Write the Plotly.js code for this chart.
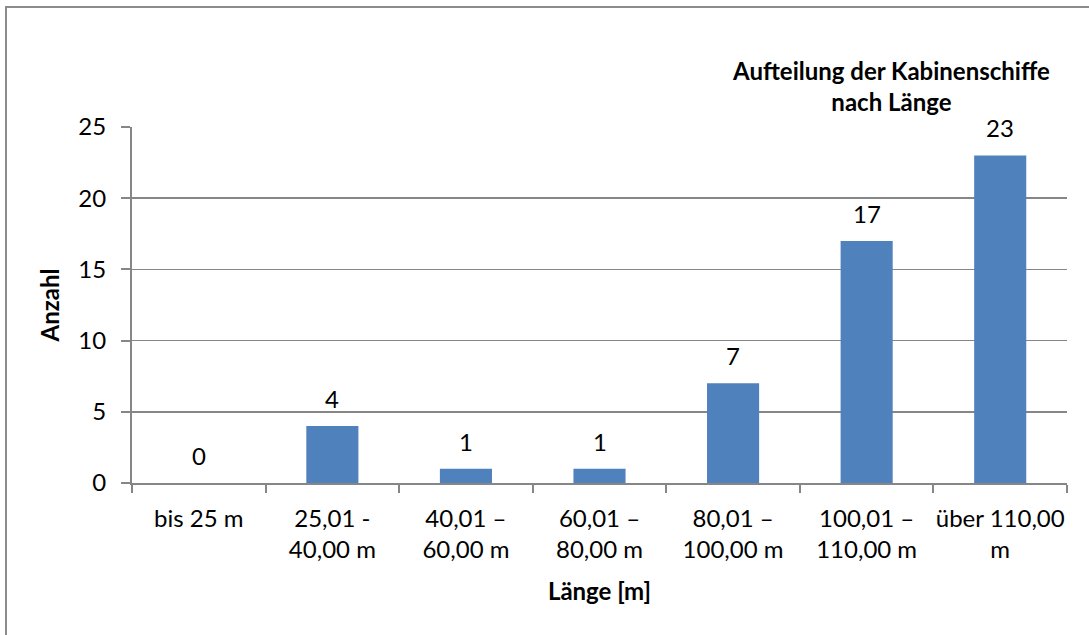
<!DOCTYPE html>
<html>
<head>
<meta charset="utf-8">
<script src="https://cdn.plot.ly/plotly-3.0.1.min.js"></script>
<style>
  html, body { margin: 0; padding: 0; background: #ffffff; }
  #chart { width: 1089px; height: 635px; }
</style>
</head>
<body>
<div id="chart"></div>
<script>
// ---- data ----
const categories = [
  "bis 25 m",
  "25,01 -<br>40,00 m",
  "40,01 –<br>60,00 m",
  "60,01 –<br>80,00 m",
  "80,01 –<br>100,00 m",
  "100,01 –<br>110,00 m",
  "über 110,00<br>m"
];
const counts = [0, 4, 1, 1, 7, 17, 23];
const yTickValues = [0, 5, 10, 15, 20, 25];
const chartTitle = "Aufteilung der Kabinenschiffe<br>nach Länge";
const xTitle = "Länge [m]";
const yTitle = "Anzahl";

// ---- layout ----
const FONT = "Lato, 'Open Sans', sans-serif";
const FS = 24;
const GRAY = "#868686";
const L = 132, R = 22, T = 127, B = 152, W = 1089, H = 635;
const pw = W - L - R, ph = H - T - B;
const px2x = p => (p - L) / pw;
const px2y = p => 1 + (T - p) / ph;

const trace = {
  type: "bar",
  x: categories,
  y: counts,
  marker: { color: "#4F81BD" },
  hoverinfo: "x+y"
};

const labelAnnotations = categories.map((c, i) => ({
  x: c, y: counts[i], xref: "x", yref: "y",
  text: String(counts[i]),
  showarrow: false, yanchor: "bottom", xanchor: "center",
  yshift: 11,
  font: { family: FONT, size: FS, color: "#000" }
}));

const layout = {
  width: W, height: H,
  margin: { l: L, r: R, t: T, b: B, pad: 0 },
  paper_bgcolor: "#ffffff",
  plot_bgcolor: "#ffffff",
  showlegend: false,
  bargap: 0.61,
  font: { family: FONT, size: FS, color: "#000" },
  xaxis: {
    type: "category",
    showline: true, linecolor: GRAY, linewidth: 2,
    ticks: "outside", tickson: "boundaries", ticklen: 8, tickwidth: 2, tickcolor: GRAY,
    showgrid: false, zeroline: false,
    tickangle: 0,
    ticklabelstandoff: 13,
    tickfont: { family: FONT, size: FS, color: "#000" },
    title: { text: xTitle, font: { family: FONT, size: FS, color: "#000", weight: "bold" }, standoff: 21 }
  },
  yaxis: {
    range: [0, 25],
    tickvals: yTickValues,
    showline: true, linecolor: GRAY, linewidth: 2,
    ticks: "outside", ticklen: 9, tickwidth: 2, tickcolor: GRAY,
    showgrid: true, gridcolor: GRAY, gridwidth: 1.5,
    zeroline: false,
    ticklabelstandoff: 10,
    tickfont: { family: FONT, size: FS, color: "#000" },
    title: { text: yTitle, font: { family: FONT, size: FS, color: "#000", weight: "bold" }, standoff: 12 }
  },
  annotations: labelAnnotations.concat([{
    xref: "paper", yref: "paper",
    x: px2x(891), y: px2y(86),
    xanchor: "center", yanchor: "middle",
    text: chartTitle, showarrow: false, align: "center",
    font: { family: FONT, size: FS, color: "#000", weight: "bold" }
  }]),
  shapes: [{
    type: "rect", xref: "paper", yref: "paper",
    x0: px2x(6), x1: px2x(1200), y0: px2y(800), y1: px2y(7),
    line: { color: "#8c8c8c", width: 2 }, fillcolor: "rgba(0,0,0,0)", layer: "below"
  }]
};

Plotly.newPlot("chart", [trace], layout, { displayModeBar: false, staticPlot: true });
</script>
</body>
</html>
